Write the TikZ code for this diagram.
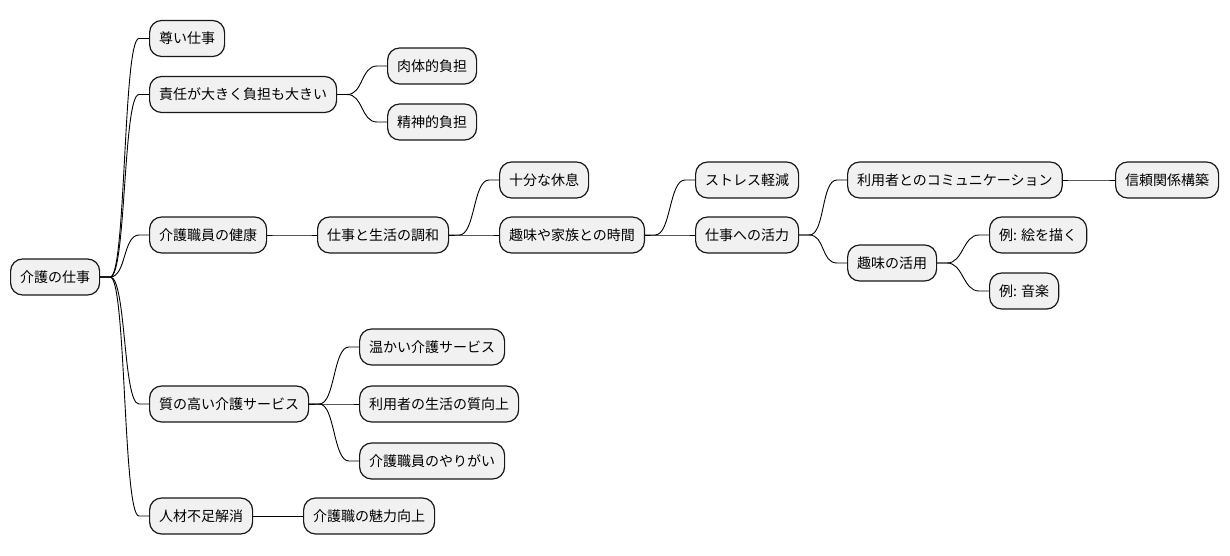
\documentclass[tikz,border=0pt]{standalone}
\usepackage{fontspec}
\setmainfont{Noto Sans CJK JP}
\usetikzlibrary{calc}
\definecolor{topicfill}{HTML}{F1F1F1}
\definecolor{topicline}{HTML}{181818}
\tikzset{
  topic/.style={draw=topicline,fill=topicfill,line width=1.2pt,rounded corners=12pt,
    minimum height=36pt,inner ysep=0pt,inner xsep=9.5pt,anchor=west,
    font=\fontsize{14}{16}\selectfont},
  branch/.style={draw=black,line width=0.9pt}
}
\newcommand{\branchto}[2]{\draw[branch] (#1.east) -- ++(10,0)
  .. controls ($(#1.east)+(26,0)$) and ($(#2.west)+(-26,0)$) .. ($(#2.west)+(-10,0)$) -- (#2.west);}

\begin{document}
\begin{tikzpicture}[x=1pt,y=-1pt]
\useasboundingbox (0,0) rectangle (1230,555);
\node[topic] (root) at (10,277) {介護の仕事};
\node[topic] (sonkei) at (149,38.5) {尊い仕事};
\node[topic] (sekinin) at (149,94.5) {責任が大きく負担も大きい};
\node[topic] (nikutai) at (387,66) {肉体的負担};
\node[topic] (seishin) at (387,122) {精神的負担};
\node[topic] (kenko) at (149,235) {介護職員の健康};
\node[topic] (chowa) at (317,235) {仕事と生活の調和};
\node[topic] (kyusoku) at (499,180) {十分な休息};
\node[topic] (jikan) at (499,235) {趣味や家族との時間};
\node[topic] (stress) at (695,180) {ストレス軽減};
\node[topic] (katsuryoku) at (695,235) {仕事への活力};
\node[topic] (comm) at (847,180) {利用者とのコミュニケーション};
\node[topic] (shinrai) at (1115,180) {信頼関係構築};
\node[topic] (shumi) at (847,263) {趣味の活用};
\node[topic] (e) at (989,235) {例: 絵を描く};
\node[topic] (ongaku) at (989,291) {例: 音楽};
\node[topic] (shitsu) at (149,404) {質の高い介護サービス};
\node[topic] (atatakai) at (359,347) {温かい介護サービス};
\node[topic] (koujou) at (359,404) {利用者の生活の質向上};
\node[topic] (yarigai) at (359,461) {介護職員のやりがい};
\node[topic] (jinzai) at (149,516) {人材不足解消};
\node[topic] (miryoku) at (303,516) {介護職の魅力向上};
\foreach \a/\b in {root/sonkei,root/sekinin,root/kenko,root/shitsu,root/jinzai,
  sekinin/nikutai,sekinin/seishin,kenko/chowa,chowa/kyusoku,chowa/jikan,
  jikan/stress,jikan/katsuryoku,katsuryoku/comm,katsuryoku/shumi,comm/shinrai,
  shumi/e,shumi/ongaku,shitsu/atatakai,shitsu/koujou,shitsu/yarigai,jinzai/miryoku}
  {\branchto{\a}{\b}}
\end{tikzpicture}
\end{document}
